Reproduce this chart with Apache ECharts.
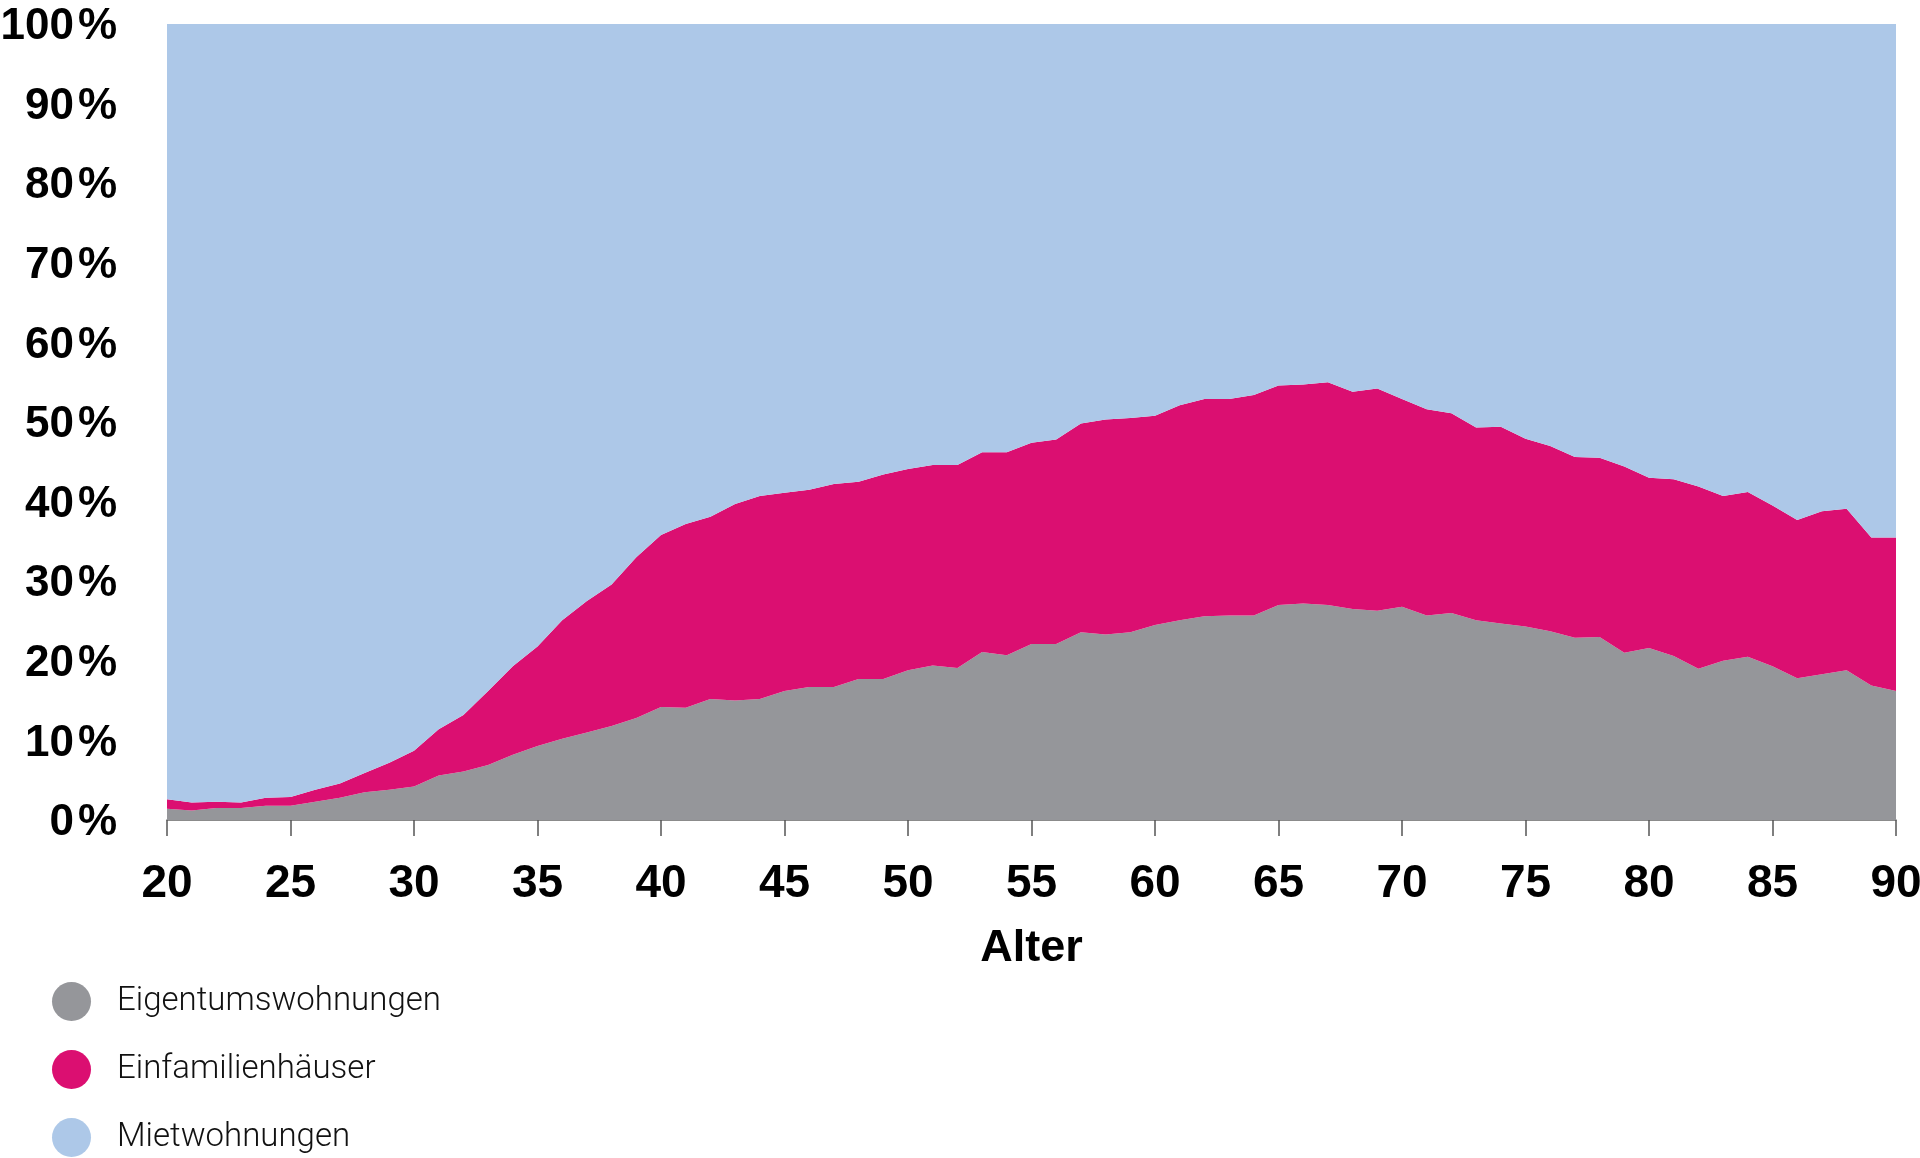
<!DOCTYPE html>
<html>
<head>
<meta charset="utf-8">
<script src="https://cdn.jsdelivr.net/npm/echarts@6/dist/echarts.min.js"></script>
<style>
html,body{margin:0;padding:0;background:#fff;}
#chart{width:1920px;height:1158px;}
</style>
</head>
<body>
<div id="chart"></div>
<script>
const ages = [];
for (let a = 20; a <= 90; a++) ages.push(String(a));

const eigentumswohnungen = [1.4,1.2,1.5,1.5,1.8,1.8,2.3,2.8,3.5,3.8,4.2,5.6,6.1,6.9,8.2,9.3,10.2,11.0,11.8,12.8,14.2,14.1,15.2,15.0,15.2,16.2,16.7,16.7,17.7,17.7,18.8,19.4,19.1,21.1,20.7,22.1,22.1,23.6,23.3,23.6,24.5,25.1,25.6,25.7,25.7,27.0,27.2,27.0,26.5,26.3,26.8,25.7,26.0,25.1,24.7,24.3,23.7,22.9,23.0,21.0,21.6,20.6,19.0,20.0,20.5,19.3,17.8,18.3,18.8,16.9,16.2];

const einfamilienhaeuser = [1.2,1.0,0.8,0.7,1.0,1.1,1.5,1.8,2.4,3.4,4.5,5.8,7.1,9.3,11.1,12.5,14.9,16.5,17.8,20.2,21.6,23.1,22.9,24.7,25.5,24.9,24.8,25.5,24.8,25.7,25.3,25.2,25.5,25.1,25.5,25.3,25.7,26.2,27.0,26.9,26.3,27.0,27.3,27.2,27.7,27.6,27.5,28.0,27.3,27.9,26.1,25.9,25.1,24.2,24.7,23.6,23.3,22.7,22.5,23.4,21.4,22.2,22.9,20.7,20.7,20.2,19.9,20.5,20.3,18.6,19.3];

const mietwohnungen = [97.4,97.8,97.7,97.8,97.2,97.1,96.2,95.4,94.1,92.8,91.3,88.6,86.8,83.8,80.7,78.2,74.9,72.5,70.4,67.0,64.2,62.8,61.9,60.3,59.3,58.9,58.5,57.8,57.5,56.6,55.9,55.4,55.4,53.8,53.8,52.6,52.2,50.2,49.7,49.5,49.2,47.9,47.1,47.1,46.6,45.4,45.3,45.0,46.2,45.8,47.1,48.4,48.9,50.7,50.6,52.1,53.0,54.4,54.5,55.6,57.0,57.2,58.1,59.3,58.8,60.5,62.3,61.2,60.9,64.5,64.5];

const seriesNames = ['Eigentumswohnungen', 'Einfamilienhäuser', 'Mietwohnungen'];
const seriesColors = ['#95969a', '#db0f71', '#adc8e8'];
const seriesData = [eigentumswohnungen, einfamilienhaeuser, mietwohnungen];

const chart = echarts.init(document.getElementById('chart'), null, {renderer: 'canvas'});
chart.setOption({
  animation: false,
  backgroundColor: '#ffffff',
  grid: {left: 167, right: 24, top: 24, bottom: 338, containLabel: false, outerBoundsMode: 'none'},
  legend: {
    orient: 'vertical',
    left: 52,
    top: 982,
    padding: 0,
    icon: 'circle',
    itemWidth: 39,
    itemHeight: 39,
    itemGap: 29,
    data: seriesNames,
    textStyle: {
      fontFamily: 'Roboto',
      fontWeight: 300,
      fontSize: 33,
      lineHeight: 38,
      color: '#111',
      padding: [0, 0, 0, 21]
    }
  },
  xAxis: {
    type: 'category',
    data: ages,
    boundaryGap: false,
    name: 'Alter',
    nameLocation: 'middle',
    nameGap: 106,
    nameTextStyle: {fontFamily: 'Liberation Sans', fontWeight: 'bold', fontSize: 45, color: '#000'},
    axisLine: {show: true, lineStyle: {color: '#666', width: 1.5}},
    axisTick: {show: true, interval: 4, length: 16, lineStyle: {color: '#555', width: 1.5}},
    axisLabel: {interval: 4, margin: 41, fontFamily: 'Liberation Sans', fontWeight: 'bold', fontSize: 46, color: '#000'},
    splitLine: {show: false}
  },
  yAxis: {
    type: 'value',
    min: 0,
    max: 100,
    interval: 10,
    axisLine: {show: false},
    axisTick: {show: false},
    splitLine: {show: false},
    axisLabel: {
      formatter: function (v) { return '{n|' + v + '}{p|%}'; },
      margin: 50,
      rich: {
        n: {fontFamily: 'Liberation Sans', fontWeight: 'bold', fontSize: 44, color: '#000', padding: [6, 0, 0, 0]},
        p: {fontFamily: 'Liberation Sans', fontWeight: 'bold', fontSize: 44, color: '#000', padding: [6, 0, 0, 4]}
      }
    }
  },
  series: seriesNames.map((n, i) => ({
    name: n,
    type: 'line',
    stack: 'total',
    data: seriesData[i],
    symbol: 'none',
    lineStyle: {width: 0},
    itemStyle: {color: seriesColors[i]},
    areaStyle: {color: seriesColors[i], opacity: 1},
    z: 2
  }))
});
</script>
</body>
</html>
